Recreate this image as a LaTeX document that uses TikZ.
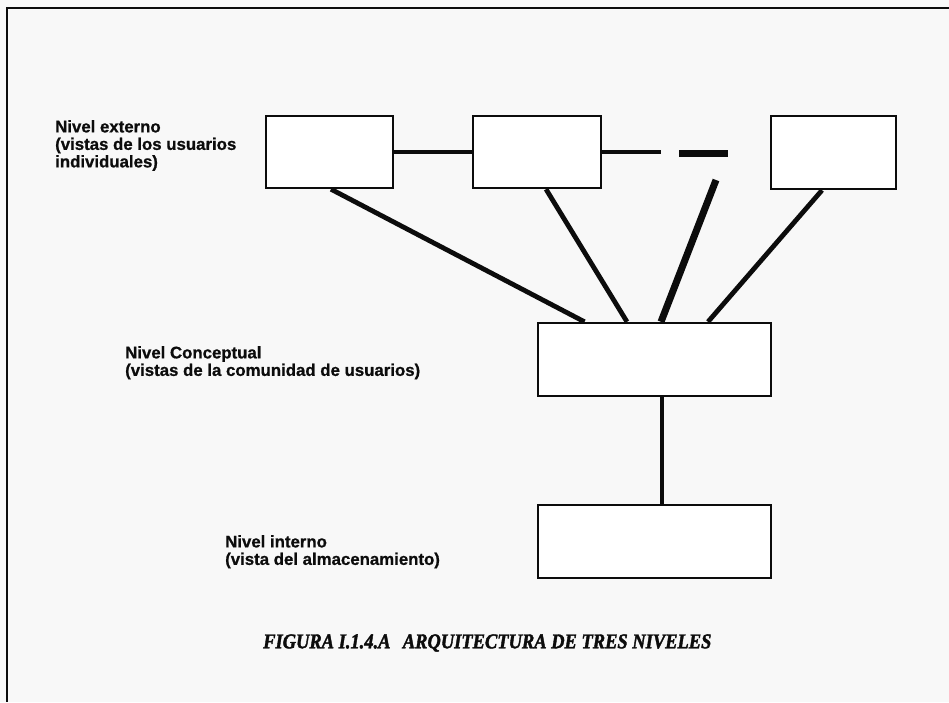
\documentclass[tikz,border=0pt]{standalone}
\usepackage{fontspec}
\setmainfont[BoldFeatures={FakeBold=0.8}]{Liberation Sans}
\newfontfamily\captionfont[BoldItalicFeatures={FakeBold=2}]{Liberation Serif}
\usetikzlibrary{calc}

\definecolor{paper}{RGB}{248,248,248}
\definecolor{ink}{RGB}{12,12,12}

\tikzset{
  levelbox/.style={draw=ink, line width=2.4pt, fill=white, inner sep=0pt},
  link/.style={draw=ink, line width=4.8pt},
  heavylink/.style={draw=ink, line width=7pt},
  thinlink/.style={draw=ink, line width=3.8pt},
  framerule/.style={draw=ink, line width=2pt},
  levellabel/.style={anchor=north west, inner sep=0pt, align=left,
    font=\bfseries\fontsize{16.8}{17.5}\selectfont, text=ink},
}

\begin{document}
\begin{tikzpicture}[x=1pt, y=-1pt]
  % page and its ruled frame (top and left edges only)
  \fill[paper] (0,0) rectangle (949,702);
  \useasboundingbox (0,0) rectangle (949,702);
  \coordinate (frameTL) at (7,8);
  \coordinate (frameTR) at (949,8);
  \coordinate (frameBL) at (7,702);
  \draw[framerule] (frameTR) -- (frameTL) -- (frameBL);

  % external level: user views
  \node[levelbox, minimum width=127pt, minimum height=72pt] (ext1) at (329.5,152) {};
  \node[levelbox, minimum width=128pt, minimum height=72pt] (ext2) at (537,152) {};
  \node[levelbox, minimum width=125pt, minimum height=73pt] (ext3) at (833.5,152.5) {};

  % conceptual and internal levels
  \node[levelbox, minimum width=233pt, minimum height=73pt] (concept) at (654.5,359.5) {};
  \node[levelbox, minimum width=233pt, minimum height=73pt] (intern) at (654.5,541.5) {};

  % chain of user views with an open continuation
  \coordinate (chainEnd) at (661,152);
  \coordinate (dashA) at (679,153);
  \coordinate (dashB) at (728,153);
  \draw[link] (ext1.east) -- (ext2.west);
  \draw[thinlink] (ext2.east) -- (chainEnd);
  \draw[heavylink] (dashA) -- (dashB);

  % mappings from the external views to the conceptual level
  \coordinate (extMore) at (716,180);
  \draw[link] ([xshift=1.5pt]ext1.south) -- ([xshift=-70pt]concept.north);
  \draw[link] ([xshift=9pt]ext2.south) -- ([xshift=-27.5pt]concept.north);
  \draw[heavylink] (extMore) -- ([xshift=6.5pt]concept.north);
  \draw[link] ([xshift=-11.5pt]ext3.south) -- ([xshift=53.5pt]concept.north);

  % conceptual to internal mapping
  \draw[link] ([xshift=7.5pt]concept.south) -- ([xshift=7.5pt]intern.north);

  % level labels
  \node[levellabel] (lblExt) at (55,120) {Nivel externo\\(vistas de los usuarios\\individuales)};
  \node[levellabel] (lblCon) at (125,346) {Nivel Conceptual\\(vistas de la comunidad de usuarios)};
  \node[levellabel] (lblInt) at (225,535) {Nivel interno\\(vista del almacenamiento)};

  % figure caption
  \node[inner sep=0pt, anchor=west, text=ink] (caption) at (263,643)
    {\scalebox{0.88}[1]{\captionfont\bfseries\itshape\fontsize{21}{22}\selectfont FIGURA I.1.4.A\hspace{14pt}ARQUITECTURA DE TRES NIVELES}};
\end{tikzpicture}
\end{document}
